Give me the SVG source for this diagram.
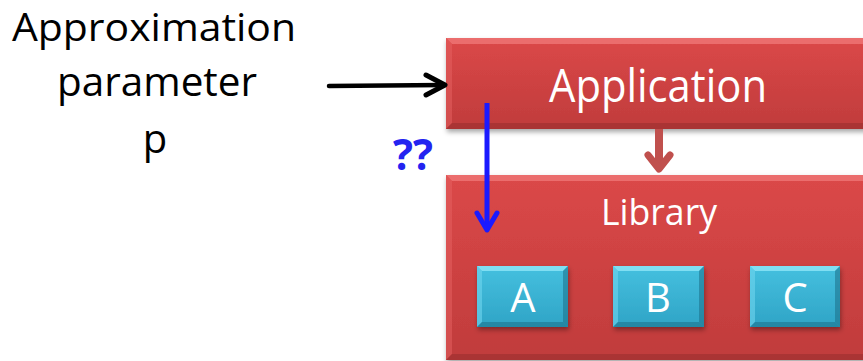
<svg xmlns="http://www.w3.org/2000/svg" width="863" height="361" viewBox="0 0 863 361">
  <defs>
    <linearGradient id="redFill" x1="0" y1="0" x2="0" y2="1">
      <stop offset="0" stop-color="#db4848"/>
      <stop offset="1" stop-color="#c03c3c"/>
    </linearGradient>
    <linearGradient id="cyanFill" x1="0" y1="0" x2="0" y2="1">
      <stop offset="0" stop-color="#45c0df"/>
      <stop offset="1" stop-color="#2fa4c6"/>
    </linearGradient>
    <filter id="shadow" x="-10%" y="-10%" width="130%" height="140%">
      <feDropShadow dx="1" dy="3" stdDeviation="2.5" flood-color="#000" flood-opacity="0.35"/>
    </filter>
  </defs>
  <style>
    .lbl { font-family: "Open Sans", "Noto Sans", sans-serif; text-anchor: middle; }
    .white { fill: #ffffff; }
    .black { fill: #000000; }
    .bevelLight { fill: #f07a7a; opacity: 0.75; }
    .bevelDark { fill: #8e2a2a; opacity: 0.45; }
    .bevelSide { fill: #e66262; opacity: 0.5; }
    .cyLight { fill: #8fe6f8; opacity: 0.8; }
    .cyDark { fill: #1b6f88; opacity: 0.55; }
    .cySide { fill: #6fd6ee; opacity: 0.6; }
    .conn { fill: none; stroke-linecap: round; stroke-linejoin: round; }
  </style>

  <!-- input label -->
  <g id="param-label">
    <text class="lbl black" x="154" y="41" font-size="38" textLength="284" lengthAdjust="spacingAndGlyphs">Approximation</text>
    <text class="lbl black" x="157" y="96" font-size="40" textLength="200" lengthAdjust="spacingAndGlyphs">parameter</text>
    <text class="lbl black" x="155" y="153" font-size="40">p</text>
  </g>

  <!-- application layer -->
  <g id="application">
    <rect x="446" y="38" width="430" height="91" fill="url(#redFill)" filter="url(#shadow)"/>
    <polygon class="bevelLight" points="446,38 876,38 876,44 452,44"/>
    <polygon class="bevelSide" points="446,38 452,44 452,123 446,129"/>
    <polygon class="bevelDark" points="446,129 452,123 876,123 876,129"/>
    <text class="lbl white" x="658" y="102" font-size="45" textLength="218" lengthAdjust="spacingAndGlyphs">Application</text>
  </g>

  <!-- library layer -->
  <g id="library">
    <rect x="446" y="175" width="430" height="185" fill="url(#redFill)" filter="url(#shadow)"/>
    <polygon class="bevelLight" points="446,175 876,175 876,181 452,181"/>
    <polygon class="bevelSide" points="446,175 452,181 452,354 446,360"/>
    <polygon class="bevelDark" points="446,360 452,354 876,354 876,360"/>
    <text class="lbl white" x="659" y="225" font-size="37" textLength="116" lengthAdjust="spacingAndGlyphs">Library</text>
  </g>

  <!-- library components -->
  <g id="comp-a">
    <rect x="477" y="266" width="91" height="61" fill="url(#cyanFill)" filter="url(#shadow)"/>
    <polygon class="cyLight" points="477,266 568,266 563,271 482,271"/>
    <polygon class="cySide" points="477,266 482,271 482,322 477,327"/>
    <polygon class="cyDark" points="477,327 482,322 563,322 568,327"/>
    <polygon class="cyDark" points="568,266 568,327 563,322 563,271"/>
    <text class="lbl white" x="523" y="312" font-size="40">A</text>
  </g>
  <g id="comp-b">
    <rect x="613" y="266" width="91" height="61" fill="url(#cyanFill)" filter="url(#shadow)"/>
    <polygon class="cyLight" points="613,266 704,266 699,271 618,271"/>
    <polygon class="cySide" points="613,266 618,271 618,322 613,327"/>
    <polygon class="cyDark" points="613,327 618,322 699,322 704,327"/>
    <polygon class="cyDark" points="704,266 704,327 699,322 699,271"/>
    <text class="lbl white" x="658" y="312" font-size="40">B</text>
  </g>
  <g id="comp-c">
    <rect x="750" y="266" width="90" height="61" fill="url(#cyanFill)" filter="url(#shadow)"/>
    <polygon class="cyLight" points="750,266 840,266 835,271 755,271"/>
    <polygon class="cySide" points="750,266 755,271 755,322 750,327"/>
    <polygon class="cyDark" points="750,327 755,322 835,322 840,327"/>
    <polygon class="cyDark" points="840,266 840,327 835,322 835,271"/>
    <text class="lbl white" x="795" y="312" font-size="40">C</text>
  </g>

  <!-- question marks -->
  <g id="unknown">
    <text class="lbl" x="413" y="170" font-size="43" font-weight="bold" fill="#2323f0" textLength="40" lengthAdjust="spacingAndGlyphs">??</text>
  </g>

  <!-- connectors -->
  <g id="connectors">
    <!-- parameter into application -->
    <path class="conn" d="M329,86 L444,85" stroke="#000" stroke-width="4.5"/>
    <path class="conn" d="M426,75 L445,85 L426,95" stroke="#000" stroke-width="5"/>
    <!-- application uses library -->
    <path d="M659,129 L659,166" stroke="#c0504d" stroke-width="8" fill="none"/>
    <path class="conn" d="M648,155 L659,169 L670,155" stroke="#c0504d" stroke-width="7"/>
    <!-- parameter passed down to A -->
    <path d="M487,103 L487,229" stroke="#1a1aff" stroke-width="5" fill="none"/>
    <path class="conn" d="M477,213 L487,230 L497,213" stroke="#1a1aff" stroke-width="5"/>
  </g>
</svg>
